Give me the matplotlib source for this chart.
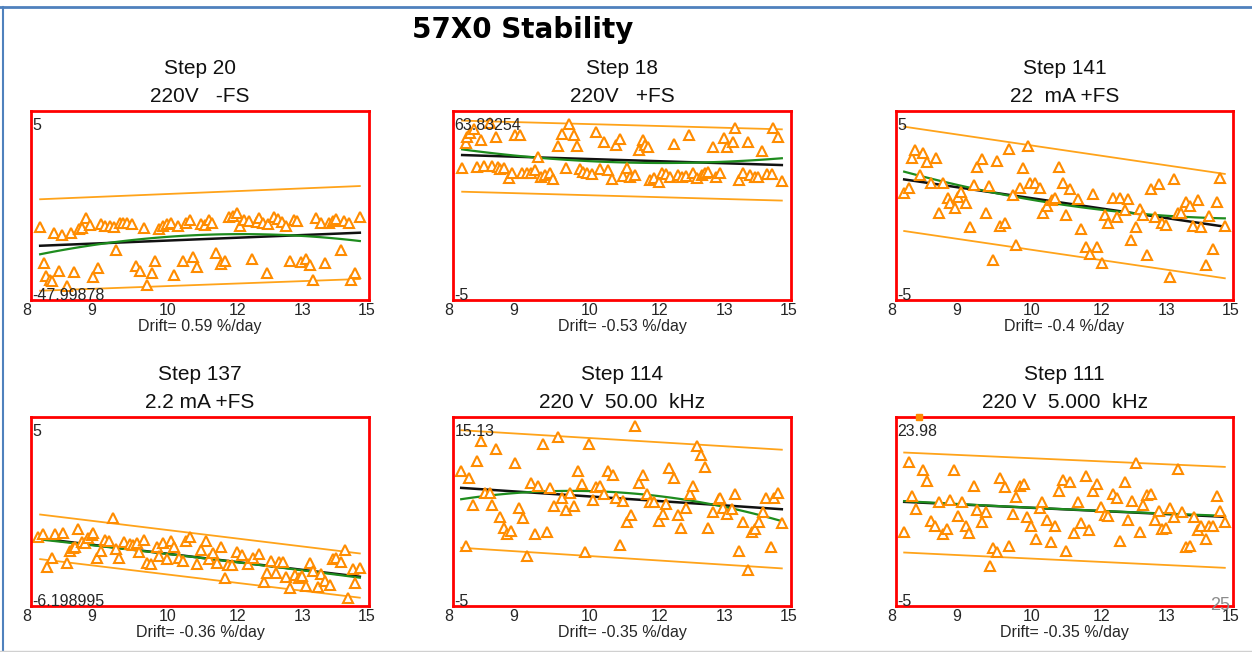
import numpy as np
import matplotlib
matplotlib.use("Agg")
import matplotlib.pyplot as plt
from matplotlib.lines import Line2D

plt.rcParams['font.family'] = ['Liberation Sans', 'DejaVu Sans']

# ---------------- data ----------------
main_title = "57X0 Stability"
step_titles = ["Step 20", "Step 18", "Step 141", "Step 137", "Step 114", "Step 111"]
sub_titles = ["220V   -FS", "220V   +FS", "22  mA +FS", "2.2 mA +FS",
              "220 V  50.00  kHz", "220 V  5.000  kHz"]
drift_texts = ["Drift= 0.59 %/day", "Drift= -0.53 %/day", "Drift= -0.4 %/day",
               "Drift= -0.36 %/day", "Drift= -0.35 %/day", "Drift= -0.35 %/day"]
top_labels = ["5", "63.83254", "5", "5", "15.13", "23.98"]
bottom_labels = ["-47.99878", "-5", "-5", "-6.198995", "-5", "-5"]
tick_values = [8.0, 9.26, 10.82, 12.27, 13.63, 14.96]
tick_labels = ["8", "9", "10", "12", "13", "15"]
page_number = "25"

p1_x = [8.19, 8.48, 8.65, 8.82, 9.00, 9.05, 9.13, 9.22, 9.44, 9.53, 9.63, 9.72, 9.84, 9.91, 9.99,
        10.10, 10.34, 10.66, 10.74, 10.81, 10.89, 11.05, 11.22, 11.29, 11.53, 11.60, 11.69, 11.74,
        12.10, 12.19, 12.26, 12.32, 12.41, 12.52, 12.68, 12.72, 12.81, 12.91, 13.03, 13.12, 13.19,
        13.28, 13.44, 13.50, 13.91, 14.01, 14.17, 14.26, 14.32, 14.48, 14.59, 14.81,
        8.26, 8.32, 8.39, 8.43, 8.59, 8.74, 8.89, 9.29, 9.38, 9.77, 10.17, 10.26, 10.41, 10.50,
        10.57, 10.96, 11.14, 11.36, 11.43, 11.84, 11.94, 12.01, 12.57, 12.89, 13.36, 13.60, 13.69,
        13.77, 13.84, 14.08, 14.41, 14.63, 14.72]
p1_y = [-1.12, -1.44, -1.56, -1.47, -1.26, -1.21, -0.68, -1.03, -0.98, -1.08, -1.08, -1.12, -0.94,
        -0.91, -0.91, -0.98, -1.21, -1.26, -1.08, -0.98, -0.91, -1.08, -0.94, -0.77, -0.98, -1.03,
        -0.77, -0.91, -0.59, -0.56, -0.38, -1.08, -0.77, -0.81, -0.86, -0.68, -0.91, -0.98, -0.59,
        -0.73, -0.86, -1.08, -0.77, -0.81, -0.68, -0.91, -0.91, -0.81, -0.73, -0.81, -0.91, -0.59,
        -3.06, -3.73, -3.94, -3.98, -3.47, -4.26, -3.52, -3.80, -3.32, -2.35, -3.20, -3.45, -4.21,
        -3.55, -2.92, -3.68, -2.92, -2.74, -3.27, -2.53, -3.10, -2.92, -2.85, -3.55, -2.92, -2.97,
        -2.85, -3.15, -3.94, -3.06, -2.35, -3.94, -3.55]

p2_x = [8.26, 8.29, 8.36, 8.43, 8.58, 8.76, 8.90, 9.29, 9.38, 9.77, 10.17, 10.26, 10.41, 10.50,
        10.57, 10.97, 11.13, 11.38, 11.46, 11.86, 11.93, 11.98, 12.03, 12.57, 12.88, 13.38, 13.61,
        13.68, 13.79, 13.84, 14.10, 14.39, 14.63, 14.74,
        8.19, 8.50, 8.65, 8.81, 8.94, 8.98, 9.05, 9.15, 9.22, 9.43, 9.54, 9.61, 9.70, 9.83, 9.91,
        10.00, 10.08, 10.34, 10.63, 10.70, 10.77, 10.88, 11.05, 11.22, 11.29, 11.52, 11.60, 11.67,
        11.77, 12.08, 12.17, 12.26, 12.32, 12.41, 12.50, 12.65, 12.74, 12.83, 12.98, 13.06, 13.15,
        13.22, 13.29, 13.45, 13.53, 13.93, 14.01, 14.15, 14.26, 14.32, 14.50, 14.60, 14.81]
p2_y = [3.29, 3.64, 3.82, 4.03, 3.47, 4.38, 3.64, 3.73, 3.73, 2.55, 3.15, 3.78, 4.31, 3.73, 3.15,
        3.87, 3.38, 3.20, 3.50, 2.94, 3.47, 3.20, 3.11, 3.25, 3.73, 3.11, 3.55, 3.08, 3.38, 4.08,
        3.38, 2.90, 4.08, 3.64,
        1.97, 2.05, 2.11, 2.09, 2.02, 1.91, 1.97, 1.44, 1.74, 1.74, 1.74, 1.70, 1.88, 1.49, 1.61,
        1.74, 1.40, 1.97, 1.91, 1.79, 1.74, 1.67, 1.91, 1.88, 1.38, 1.56, 1.97, 1.53, 1.61, 1.35,
        1.44, 1.26, 1.74, 1.67, 1.49, 1.61, 1.49, 1.56, 1.74, 1.44, 1.61, 1.74, 1.79, 1.49, 1.74,
        1.35, 1.74, 1.61, 1.53, 1.49, 1.67, 1.67, 1.31]

p3_x = [8.17, 8.26, 8.33, 8.39, 8.50, 8.57, 8.65, 8.72, 8.83, 8.90, 8.97, 9.07, 9.13, 9.22, 9.29,
        9.36, 9.45, 9.54, 9.62, 9.69, 9.78, 9.87, 9.94, 10.02, 10.09, 10.16, 10.26, 10.34, 10.42,
        10.49, 10.57, 10.64, 10.74, 10.79, 10.88, 10.99, 11.06, 11.13, 11.23, 11.30, 11.39, 11.46,
        11.54, 11.61, 11.78, 11.85, 11.94, 12.02, 12.09, 12.18, 12.27, 12.34, 12.41, 12.50, 12.59,
        12.66, 12.75, 12.82, 12.89, 12.98, 13.06, 13.13, 13.21, 13.30, 13.37, 13.46, 13.53, 13.60,
        13.70, 13.77, 13.86, 13.93, 14.02, 14.10, 14.17, 14.27, 14.34, 14.43, 14.50, 14.58, 14.67,
        14.74, 14.83]
p3_y = [0.64, 0.91, 2.50, 2.94, 1.61, 2.80, 2.32, 1.17, 2.50, -0.38, 1.21, 0.38, 0.11, -0.15, 0.47,
        0.73, 0.15, -1.12, 1.08, 2.02, 2.44, -0.41, 1.03, -2.88, 2.37, -1.08, -0.91, 2.97, 0.56,
        -2.09, 0.91, 1.97, 3.15, 1.21, 1.21, 0.91, -0.41, -0.03, 0.29, 0.38, 2.05, 1.21, -0.50,
        0.86, 0.33, -1.26, -2.18, -2.57, 0.61, -2.18, -3.02, -0.50, -0.91, 0.38, -0.63, 0.38, -0.24,
        0.33, -1.83, -1.12, -0.20, -0.50, -2.62, 0.86, -0.59, 1.14, -0.94, -1.03, -3.77, 1.38, -0.41,
        -0.41, 0.20, -0.03, -1.08, 0.29, -1.16, -3.15, -0.56, -2.32, 0.20, 1.44, -1.08]

p4_x = [8.15, 8.24, 8.34, 8.43, 8.50, 8.66, 8.74, 8.81, 8.86, 8.91, 8.98, 9.05, 9.12, 9.19, 9.26,
        9.29, 9.37, 9.46, 9.53, 9.62, 9.69, 9.77, 9.83, 9.92, 10.05, 10.12, 10.20, 10.24, 10.34,
        10.41, 10.48, 10.60, 10.66, 10.74, 10.81, 10.89, 10.96, 11.07, 11.15, 11.21, 11.30, 11.43,
        11.53, 11.62, 11.69, 11.77, 11.86, 11.94, 12.01, 12.08, 12.17, 12.26, 12.38, 12.50, 12.60,
        12.72, 12.82, 12.89, 12.98, 13.07, 13.14, 13.22, 13.29, 13.37, 13.46, 13.55, 13.62, 13.69,
        13.77, 13.84, 13.94, 14.01, 14.08, 14.19, 14.26, 14.32, 14.43, 14.50, 14.57, 14.66, 14.72,
        14.81]
p4_y = [-1.34, -1.21, -2.92, -2.48, -1.21, -1.16, -2.75, -2.10, -1.95, -1.87, -0.93, -1.60, -1.69,
        -1.39, -1.25, -1.16, -2.48, -2.10, -1.51, -1.57, -0.37, -1.99, -2.45, -1.64, -1.74, -1.78,
        -1.69, -2.13, -1.51, -2.75, -2.80, -1.87, -2.34, -1.69, -2.52, -1.57, -1.87, -2.45, -2.62,
        -1.57, -1.34, -2.80, -2.04, -1.57, -2.52, -2.17, -2.75, -1.87, -3.50, -2.83, -2.83, -2.13,
        -2.31, -2.80, -2.45, -2.27, -3.75, -3.27, -2.62, -3.27, -2.66, -2.69, -3.45, -4.03, -3.36,
        -3.50, -3.40, -3.93, -2.75, -3.15, -3.98, -3.33, -3.68, -3.89, -2.52, -2.45, -2.66, -2.04,
        -4.56, -3.05, -3.80, -3.01]

p5_x = [8.17, 8.26, 8.34, 8.41, 8.50, 8.58, 8.67, 8.76, 8.81, 8.90, 8.98, 9.05, 9.12, 9.20, 9.29,
        9.36, 9.45, 9.54, 9.61, 9.70, 9.77, 9.86, 9.94, 10.01, 10.10, 10.17, 10.26, 10.34, 10.43,
        10.50, 10.58, 10.67, 10.74, 10.81, 10.90, 10.97, 11.05, 11.13, 11.22, 11.31, 11.38, 11.46,
        11.52, 11.60, 11.68, 11.77, 11.86, 11.93, 12.01, 12.08, 12.17, 12.26, 12.34, 12.41, 12.48,
        12.57, 12.65, 12.72, 12.83, 12.90, 12.98, 13.05, 13.13, 13.22, 13.29, 13.38, 13.50, 13.53,
        13.60, 13.68, 13.77, 13.84, 13.93, 14.01, 14.10, 14.19, 14.26, 14.34, 14.41, 14.48, 14.58,
        14.65, 14.74, 14.81]
p5_y = [2.13, -1.81, 1.78, 0.33, 2.66, 3.71, 1.00, 1.00, 0.33, 3.29, -0.28, -0.86, -1.21, -1.04,
        2.54, 0.16, -0.37, -2.34, 1.53, -1.21, 1.36, 3.59, -1.07, 1.25, 0.30, 3.94, 0.72, 0.07, 1.00,
        0.30, 2.13, 1.43, -2.13, 3.59, 0.60, 1.30, 1.36, 0.90, 2.13, 1.95, 0.72, -1.78, 0.55, -0.58,
        -0.19, 4.52, 1.53, 1.95, 0.95, 0.51, 0.51, -0.51, -0.11, 0.42, 2.31, 1.78, -0.16, -0.86,
        0.19, 0.90, 1.36, 3.47, 3.01, 2.36, -0.86, -0.02, 0.65, 0.72, 0.16, -0.11, 0.12, 0.90, -2.10,
        -0.58, -3.10, -1.07, -0.93, -0.58, -0.05, 0.72, -1.87, 0.72, 1.00, -0.63]

p6_x = [8.17, 8.26, 8.33, 8.41, 8.57, 8.65, 8.72, 8.81, 8.90, 8.97, 9.05, 9.13, 9.21, 9.29, 9.38,
        9.45, 9.52, 9.62, 9.69, 9.78, 9.87, 9.95, 10.02, 10.09, 10.17, 10.26, 10.34, 10.42, 10.49,
        10.57, 10.66, 10.72, 10.81, 10.90, 10.99, 11.04, 11.13, 11.21, 11.30, 11.39, 11.46, 11.54,
        11.61, 11.69, 11.78, 11.85, 11.94, 12.01, 12.09, 12.18, 12.25, 12.34, 12.41, 12.50, 12.59,
        12.66, 12.75, 12.82, 12.91, 12.98, 13.06, 13.13, 13.21, 13.30, 13.37, 13.46, 13.53, 13.60,
        13.70, 13.77, 13.86, 13.95, 14.02, 14.10, 14.18, 14.27, 14.34, 14.43, 14.50, 14.58, 14.67,
        14.74, 14.83]
p6_y = [-1.11, 2.62, 0.83, 0.12, 2.18, 1.60, -0.51, -0.76, 0.48, -1.21, -0.93, 0.60, 2.18, -0.23,
        0.48, -0.76, -1.16, 1.36, 0.07, -0.55, -0.05, -2.87, -1.92, -2.13, 1.78, 1.30, -1.81, -0.11,
        0.77, 1.36, 1.43, -0.28, -0.76, -1.46, 0.19, 0.48, -0.46, -1.64, -0.76, 1.07, 1.65, -2.10,
        1.57, -1.16, 0.48, -0.63, 1.88, -0.99, 1.07, 1.43, 0.25, -0.19, -0.23, 0.90, 0.72, -1.57,
        1.57, -0.46, 0.55, 2.59, -1.11, 0.33, 0.86, 0.95, -0.46, 0.02, -0.93, -0.86, 0.19, -0.28,
        2.27, -0.05, -1.87, -1.81, -0.28, -0.99, -0.76, -1.46, -0.76, -0.76, 0.83, 0.02, -0.55]
p6_outlier_x = [8.48]
p6_outlier_y = [5.0]

# fitted-line values: (start, end) at (x_start, x_end)
line_x_start = [8.19, 8.19, 8.17, 8.19, 8.17, 8.17]
line_x_end = [14.81, 14.81, 14.83, 14.81, 14.81, 14.83]
trend_start = [-2.13, 2.67, 1.38, -1.43, 1.25, 0.51]
trend_end = [-1.44, 2.14, -1.12, -3.45, 0.12, -0.28]
curve_start = [-2.58, 2.97, 1.79, -1.48, 0.65, 0.55]
curve_mid = [-1.56, 2.28, 0.03, -2.45, 1.00, 0.12]
curve_end = [-1.88, 2.50, -0.68, -3.50, -0.51, -0.23]
upper_start = [0.33, 4.49, 4.17, -0.16, 4.30, 3.12]
upper_end = [1.03, 4.03, 1.67, -2.22, 3.27, 2.36]
lower_start = [-4.51, 0.73, -1.35, -2.52, -1.92, -2.17]
lower_end = [-3.89, 0.26, -3.85, -4.56, -3.01, -2.98]

xs_all = [p1_x, p2_x, p3_x, p4_x, p5_x, p6_x]
ys_all = [p1_y, p2_y, p3_y, p4_y, p5_y, p6_y]

# ---------------- figure ----------------
W, H = 1252, 652
fig = plt.figure(figsize=(W / 100, H / 100), dpi=100)
fig.patch.set_facecolor('white')

def fx(px):
    return px / W

def fy(py):
    return 1 - py / H

boxes = [(31, 111, 369, 300), (453, 111, 791, 300), (896, 111, 1233, 300),
         (31, 417, 369, 606), (453, 417, 791, 606), (896, 417, 1233, 606)]

ORANGE_LINE = '#FFA31A'
ORANGE_MK = '#FF8C00'
GREEN = '#1E8C1E'
TXT = '#262626'

for i, (l, t, r, b) in enumerate(boxes):
    ax = fig.add_axes([fx(l), fy(b), fx(r - l), (b - t) / H])
    ax.set_xlim(8, 15)
    ax.set_ylim(-5, 5)
    ax.set_yticks([])
    ax.set_xticks(tick_values)
    ax.set_xticklabels(tick_labels, fontsize=11.5, color=TXT)
    ax.get_xticklabels()[0].set_horizontalalignment('right')
    ax.tick_params(axis='x', length=0, pad=2.5)
    for s in ax.spines.values():
        s.set_color('#FF0000')
        s.set_linewidth(2.0)
        s.set_zorder(5)

    xa, xb = line_x_start[i], line_x_end[i]
    ax.plot([xa, xb], [upper_start[i], upper_end[i]], color=ORANGE_LINE, lw=1.3, zorder=2)
    ax.plot([xa, xb], [lower_start[i], lower_end[i]], color=ORANGE_LINE, lw=1.3, zorder=2)
    ax.plot([xa, xb], [trend_start[i], trend_end[i]], color='#111111', lw=1.8, zorder=3)
    coef = np.polyfit([xa, (xa + xb) / 2, xb], [curve_start[i], curve_mid[i], curve_end[i]], 2)
    xx = np.linspace(xa, xb, 120)
    ax.plot(xx, np.polyval(coef, xx), color=GREEN, lw=1.6, zorder=3)

    ax.plot(xs_all[i], ys_all[i], ls='none', marker='^', ms=7, mfc='white',
            mec=ORANGE_MK, mew=1.5, zorder=4)

    ax.text(0.004, 1 - 14 / (b - t), top_labels[i], transform=ax.transAxes,
            ha='left', va='center', fontsize=11.5, color=TXT, zorder=6)
    ax.text(0.004, 4 / (b - t), bottom_labels[i], transform=ax.transAxes,
            ha='left', va='center', fontsize=11.5, color=TXT, zorder=6)

    if i == 5:
        ax.plot(p6_outlier_x, p6_outlier_y, ls='none', marker='s', ms=5,
                color=ORANGE_MK, clip_on=False, zorder=7)

    cx = (l + r) / 2
    fig.text(fx(cx), fy(t - 42), step_titles[i], ha='center', va='center',
             fontsize=15, color='#111111')
    fig.text(fx(cx), fy(t - 14), sub_titles[i], ha='center', va='center',
             fontsize=15, color='#111111')
    fig.text(fx(cx), fy(b + 27), drift_texts[i], ha='center', va='center',
             fontsize=11.5, color=TXT)

fig.text(fx(523), fy(30), main_title, ha='center', va='center', fontsize=20,
         fontweight='bold', family='DejaVu Sans', color='#000000')

fig.text(fx(1220), fy(606), page_number, ha='center', va='center', fontsize=13,
         color='#8c8c8c')

# slide frame lines
fig.add_artist(Line2D([0, 1], [fy(7), fy(7)], transform=fig.transFigure,
                      color='#4F81BD', lw=2.0))
fig.add_artist(Line2D([fx(3), fx(3)], [0, fy(7)], transform=fig.transFigure,
                      color='#4F81BD', lw=1.5))
fig.add_artist(Line2D([0, 1], [fy(651), fy(651)], transform=fig.transFigure,
                      color='#d0d0d0', lw=1.0))

fig.savefig('out.png', dpi=100)
